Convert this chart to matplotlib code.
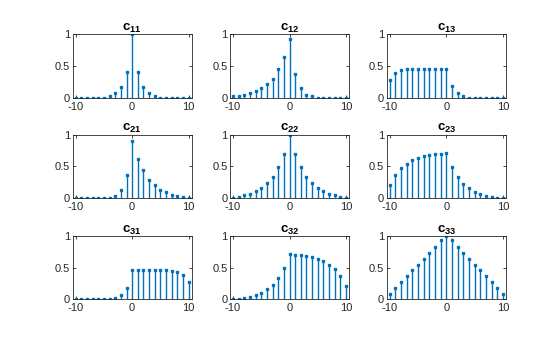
import numpy as np
import matplotlib.pyplot as plt

plt.rcParams['font.family'] = ['Liberation Sans', 'DejaVu Sans']
plt.rcParams['mathtext.fontset'] = 'custom'
plt.rcParams['mathtext.rm'] = 'Liberation Sans'
plt.rcParams['mathtext.bf'] = 'Liberation Sans:bold'
plt.rcParams['mathtext.it'] = 'Liberation Sans:italic'
plt.rcParams['axes.unicode_minus'] = False

lags = np.arange(-10, 11)

c11 = [0, 0, 0, 0, 0, 0, 0.02, 0.08, 0.17, 0.40, 1.0, 0.40, 0.17, 0.08, 0.02, 0, 0, 0, 0, 0, 0]
c12 = [0.025, 0.035, 0.05, 0.07, 0.10, 0.15, 0.21, 0.30, 0.45, 0.64, 0.92, 0.37, 0.15, 0.05, 0.02, 0, 0, 0, 0, 0, 0]
c13 = [0.28, 0.39, 0.44, 0.45, 0.46, 0.46, 0.46, 0.46, 0.46, 0.46, 0.46, 0.18, 0.07, 0.025, 0, 0, 0, 0, 0, 0, 0]
c21 = [0, 0, 0, 0, 0, 0, 0.01, 0.04, 0.13, 0.36, 0.91, 0.62, 0.44, 0.29, 0.20, 0.13, 0.09, 0.05, 0.04, 0.02, 0.01]
c22 = [0, 0.02, 0.05, 0.07, 0.115, 0.16, 0.24, 0.33, 0.49, 0.70, 1.0, 0.70, 0.49, 0.33, 0.24, 0.16, 0.11, 0.07, 0.05, 0.02, 0]
c23 = [0.21, 0.36, 0.47, 0.54, 0.60, 0.63, 0.66, 0.68, 0.69, 0.69, 0.71, 0.49, 0.33, 0.22, 0.16, 0.09, 0.06, 0.03, 0.015, 0, 0]
c31 = [0, 0, 0, 0, 0, 0, 0, 0.015, 0.06, 0.18, 0.46, 0.46, 0.46, 0.46, 0.46, 0.46, 0.46, 0.45, 0.43, 0.38, 0.28]
c32 = [0, 0, 0.015, 0.03, 0.065, 0.10, 0.16, 0.22, 0.34, 0.49, 0.72, 0.70, 0.70, 0.69, 0.67, 0.64, 0.60, 0.54, 0.48, 0.37, 0.21]
c33 = [0.08, 0.175, 0.27, 0.37, 0.46, 0.54, 0.64, 0.73, 0.83, 0.93, 1.0, 0.93, 0.83, 0.73, 0.64, 0.54, 0.46, 0.37, 0.27, 0.175, 0.08]

series = [[c11, c12, c13], [c21, c22, c23], [c31, c32, c33]]

blue = '#0072BD'
dark = '#262626'

fig = plt.figure(figsize=(5.6, 3.37), dpi=100)

lefts = [0.130, 0.411, 0.691]
bottoms = [0.710, 0.412, 0.112]
w = 0.212
h = 0.188

for r in range(3):
	for c in range(3):
		ax = fig.add_axes([lefts[c], bottoms[r], w, h])
		markerline, stemlines, baseline = ax.stem(lags, series[r][c], basefmt=' ')
		plt.setp(stemlines, color=blue, linewidth=1.0)
		plt.setp(markerline, color=blue, marker='s', markersize=1.8,
				markerfacecolor=blue, markeredgecolor=blue)
		ax.set_xlim(-10.5, 10.5)
		ax.set_ylim(0, 1)
		ax.set_xticks([-10, 0, 10])
		ax.set_yticks([0, 0.5, 1])
		ax.set_yticklabels(['0', '0.5', '1'])
		ax.tick_params(direction='in', length=2, width=0.6, labelsize=8,
				colors=dark, top=True, right=True)
		ax.tick_params(axis='y', pad=2)
		ax.tick_params(axis='x', pad=3)
		for s in ax.spines.values():
			s.set_color(dark)
			s.set_linewidth(0.6)
		ax.set_title(r'$\mathbf{c_{%d%d}}$' % (r + 1, c + 1), fontsize=9.5,
				color='black', pad=2.5)

fig.savefig('out.png', dpi=100)
